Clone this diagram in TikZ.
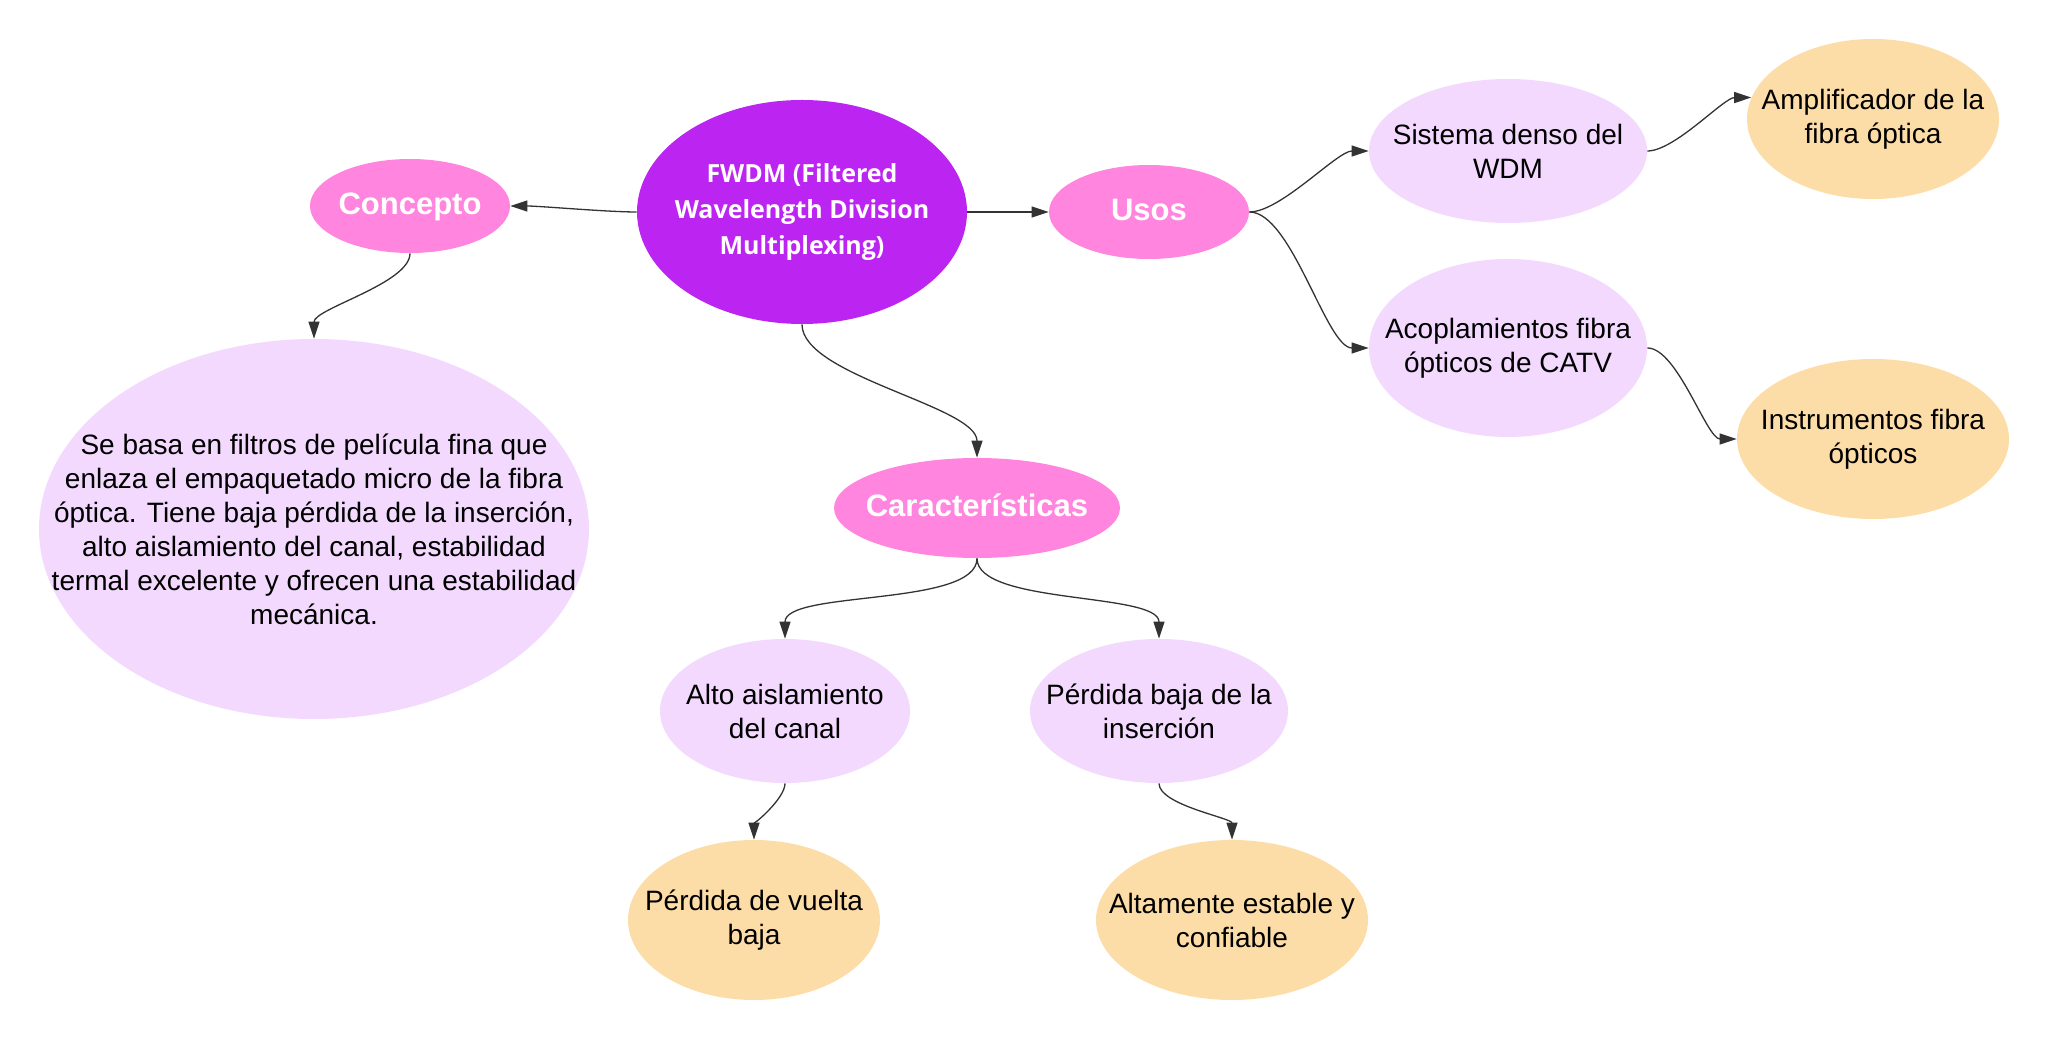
\documentclass[tikz,border=0pt]{standalone}
\usepackage{fontspec}
\setmainfont{Liberation Sans}
\newfontfamily\hubfont{Open Sans}
\usetikzlibrary{shapes.geometric,arrows.meta}
\definecolor{hubcol}{HTML}{BB24F1}
\definecolor{temacol}{HTML}{FF85DF}
\definecolor{subcol}{HTML}{F2D9FD}
\definecolor{hojacol}{HTML}{FDDDA7}
\definecolor{lineacol}{HTML}{333333}
\begin{document}
\begin{tikzpicture}[x=0.5pt,y=0.5pt,
  burbuja/.style={ellipse,inner sep=-200pt,align=center},
  hub/.style={burbuja,fill=hubcol,text=white,font=\hubfont\bfseries\fontsize{12.5}{17.8}\selectfont},
  tema/.style={burbuja,fill=temacol,text=white,text height=11.5pt,text depth=3.3pt,font=\bfseries\fontsize{15.5}{18}\selectfont},
  sub/.style={burbuja,fill=subcol,font=\fontsize{14}{17}\selectfont},
  hoja/.style={burbuja,fill=hojacol,font=\fontsize{14}{17}\selectfont},
  flecha/.style={draw=lineacol,line width=0.65pt,looseness=0.6,-{Triangle[length=8.5pt,width=5.5pt]}}]
\useasboundingbox (0,0) rectangle (2051,-1042);
% centro
\node[hub,minimum width=165pt,minimum height=112pt] (FWDM) at (802,-212) {FWDM (Filtered\\Wavelength Division\\Multiplexing)};
% ramas
\node[tema,minimum width=100pt,minimum height=47pt] (CON) at (410,-206) {Concepto};
\node[tema,minimum width=100pt,minimum height=47pt] (USO) at (1149,-212) {Usos};
\node[tema,minimum width=143pt,minimum height=50pt] (CAR) at (977,-508) {Características};
% concepto
\node[sub,minimum width=275pt,minimum height=190pt] (DEF) at (314,-529) {Se basa en filtros de película fina que\\enlaza el empaquetado micro de la fibra\\óptica. Tiene baja pérdida de la inserción,\\alto aislamiento del canal, estabilidad\\termal excelente y ofrecen una estabilidad\\mecánica.};
% usos
\node[sub,minimum width=139pt,minimum height=72pt] (SIS) at (1508,-151) {Sistema denso del\\WDM};
\node[sub,minimum width=139pt,minimum height=89pt] (ACO) at (1508,-348) {Acoplamientos fibra\\ópticos de CATV};
\node[hoja,minimum width=126pt,minimum height=80pt] (AMP) at (1873,-119) {Amplificador de la\\fibra óptica};
\node[hoja,minimum width=136pt,minimum height=80pt] (INS) at (1873,-439) {Instrumentos fibra\\ópticos};
% caracteristicas
\node[sub,minimum width=125pt,minimum height=72pt] (AIS) at (785,-711) {Alto aislamiento\\del canal};
\node[sub,minimum width=129pt,minimum height=72pt] (PBI) at (1159,-711) {Pérdida baja de la\\inserción};
\node[hoja,minimum width=126pt,minimum height=80pt] (PVB) at (754,-920) {Pérdida de vuelta\\baja};
\node[hoja,minimum width=136pt,minimum height=80pt] (EST) at (1232,-920) {Altamente estable y\\confiable};
% flechas
\draw[flecha] (FWDM.west) to[out=180,in=0] (CON.east);
\draw[flecha] (FWDM.east) -- (USO.west);
\draw[flecha] (FWDM.south) to[out=-90,in=90] (CAR.north);
\draw[flecha] (CON.south) to[out=-90,in=90] (DEF.north);
\draw[flecha] (USO.east) to[out=0,in=180] (SIS.west);
\draw[flecha] (USO.east) to[out=0,in=180] (ACO.west);
\draw[flecha] (SIS.east) to[out=0,in=180] (AMP.170);
\draw[flecha] (ACO.east) to[out=0,in=180] (INS.west);
\draw[flecha] (CAR.south) to[out=-90,in=90] (AIS.north);
\draw[flecha] (CAR.south) to[out=-90,in=90] (PBI.north);
\draw[flecha] (AIS.south) to[out=-90,in=90] (PVB.north);
\draw[flecha] (PBI.south) to[out=-90,in=90] (EST.north);
\end{tikzpicture}
\end{document}
